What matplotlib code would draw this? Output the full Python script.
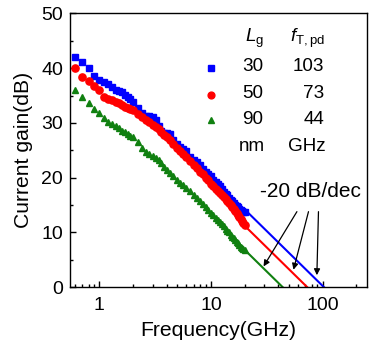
import numpy as np
import matplotlib
matplotlib.use("Agg")
import matplotlib.pyplot as plt
from matplotlib.ticker import LogLocator, FixedLocator, FixedFormatter, NullFormatter

plt.rcParams['font.family'] = ['Liberation Sans', 'DejaVu Sans']
plt.rcParams['mathtext.fontset'] = 'custom'
plt.rcParams['mathtext.rm'] = 'Liberation Sans'
plt.rcParams['mathtext.it'] = 'Liberation Sans:italic'

freq = [0.6, 0.7, 0.8, 0.9, 1.0, 1.1, 1.2, 1.3, 1.4, 1.5, 1.6, 1.7, 1.8, 1.9, 2.0,
        2.2, 2.4, 2.6, 2.8, 3.0, 3.2, 3.4, 3.6, 3.8, 4.0, 4.3, 4.6, 5.0, 5.3, 5.6,
        6.0, 6.5, 7.0, 7.5, 8.0, 8.5, 9.0, 9.5, 10, 10.5, 11, 11.5, 12, 12.5, 13,
        13.5, 14, 14.5, 15, 15.5, 16, 16.5, 17, 17.5, 18, 18.5, 19, 19.5, 20]

gain_30 = [42.0, 41.2, 40.0, 38.6, 37.8, 37.4, 37.1, 36.6, 36.0, 35.8, 35.6, 35.1, 34.7, 34.3, 33.9,
           32.8, 31.8, 31.3, 31.2, 31.1, 30.6, 29.4, 28.5, 28.1, 28.1, 27.9, 26.9, 26.2, 25.6, 25.2,
           24.8, 23.8, 23.2, 22.8, 22.3, 21.6, 21.0, 20.7, 20.3, 19.6, 19.2, 18.8, 18.4, 17.9, 17.4,
           17.1, 16.8, 16.3, 16.0, 15.7, 15.4, 15.1, 14.8, 14.6, 14.3, 14.1, 14.0, 13.8, 13.7]

gain_50 = [40.0, 38.3, 37.6, 36.7, 36.1, 34.8, 34.4, 34.1, 33.9, 33.6, 33.3, 33.0, 32.8, 32.6, 32.3,
           31.7, 31.1, 30.6, 30.1, 29.7, 29.2, 28.9, 28.4, 27.8, 27.4, 26.8, 26.2, 25.5, 24.9, 24.4,
           23.8, 23.0, 22.3, 21.7, 21.1, 20.6, 20.0, 19.5, 18.9, 18.5, 18.0, 17.6, 17.2, 16.9, 16.5,
           16.1, 15.7, 15.4, 15.0, 14.6, 14.2, 13.9, 13.5, 13.1, 12.8, 12.4, 12.1, 11.8, 11.4]

gain_90 = [36.1, 34.8, 33.6, 32.5, 31.8, 30.9, 30.2, 29.8, 29.4, 29.0, 28.6, 28.3, 28.0, 27.7, 27.4,
           26.6, 25.4, 24.7, 24.4, 24.0, 23.6, 23.2, 22.6, 22.0, 21.4, 20.8, 20.4, 19.6, 19.0, 18.7,
           18.2, 17.5, 16.8, 16.3, 15.8, 15.2, 14.6, 14.1, 13.6, 13.2, 12.7, 12.3, 11.9, 11.5, 11.1,
           10.7, 10.3, 10.0, 9.6, 9.2, 8.9, 8.6, 8.3, 8.0, 7.7, 7.4, 7.2, 7.0, 6.8]

lg = ["30", "50", "90"]
ft = [103, 73, 44]
colors = ["#0000ff", "#ff0000", "#108010"]
markers = ["s", "o", "^"]
msizes = [4.3, 5.2, 5.0]
fit_start = 20

fig = plt.figure(figsize=(3.76, 3.44), dpi=100)
ax = fig.add_axes([0.186, 0.165, 0.790, 0.796])

for g, f_t, c, m, ms in zip([gain_30, gain_50, gain_90], ft, colors, markers, msizes):
    fl = np.array([fit_start, f_t])
    ax.plot(fl, 20 * np.log10(f_t / fl), color=c, lw=1.5, zorder=2)
    ax.plot(freq, g, ls="none", marker=m, ms=ms, color=c, mec=c, zorder=3)

ax.set_xscale("log")
ax.set_xlim(0.545, 250)
ax.set_ylim(0, 50)
ax.xaxis.set_major_locator(FixedLocator([1, 10, 100]))
ax.xaxis.set_major_formatter(FixedFormatter(["1", "10", "100"]))
ax.xaxis.set_minor_locator(LogLocator(base=10, subs=np.arange(2, 10)))
ax.xaxis.set_minor_formatter(NullFormatter())
ax.set_yticks([0, 10, 20, 30, 40, 50])
ax.set_yticks([5, 15, 25, 35, 45], minor=True)
ax.tick_params(which="both", direction="in", top=False, right=False, labelsize=14)
ax.tick_params(which="major", length=4.5, width=1)
ax.tick_params(which="minor", length=2.3, width=1)
ax.tick_params(axis="x", which="major", pad=7)
ax.tick_params(axis="y", which="major", pad=5)
for s in ax.spines.values():
    s.set_linewidth(1)

ax.set_xlabel("Frequency(GHz)", fontsize=15.2, labelpad=5)
ax.set_ylabel("Current gain(dB)", fontsize=15.2, labelpad=6)

# legend table
px = lambda x, y: fig.transFigure.inverted().transform(
    fig.dpi_scale_trans.transform((x / 100, (344 - y) / 100)))
fs = 13.6
ax.text(*px(255, 38), r"$\mathit{L}_{\mathrm{g}}$", transform=fig.transFigure,
        ha="center", va="center", fontsize=fs)
ax.text(*px(308, 38), r"$\mathit{f}_{\mathrm{T,pd}}$", transform=fig.transFigure,
        ha="center", va="center", fontsize=fs)
rows = [66.7, 93.5, 119.5]
for i in range(3):
    ax.plot(*px(210.7, rows[i] + 1), marker=markers[i], ms=msizes[i] - 0.3, color=colors[i],
            transform=fig.transFigure, clip_on=False)
    ax.text(*px(253, rows[i]), lg[i], transform=fig.transFigure,
            ha="center", va="center", fontsize=fs)
    ax.text(*px(324, rows[i]), str(ft[i]), transform=fig.transFigure,
            ha="right", va="center", fontsize=fs)
ax.text(*px(252, 146.5), "nm", transform=fig.transFigure, ha="center", va="center", fontsize=fs)
ax.text(*px(307, 146.5), "GHz", transform=fig.transFigure, ha="center", va="center", fontsize=fs)

# -20 dB/dec arrows
ax.text(77.6, 17.4, "-20 dB/dec", ha="center", va="center", fontsize=15)
tails = [(58.9, 13.8), (74.8, 13.8), (91.9, 13.8)]
tips = [(29.6, 3.8), (54.9, 3.2), (88.9, 2.2)]
for t, h in zip(tails, tips):
    ax.annotate("", xy=h, xytext=t,
                arrowprops=dict(arrowstyle="-|>", color="black", lw=0.9,
                                mutation_scale=9, shrinkA=0, shrinkB=0))

fig.savefig("out.png", dpi=100)
